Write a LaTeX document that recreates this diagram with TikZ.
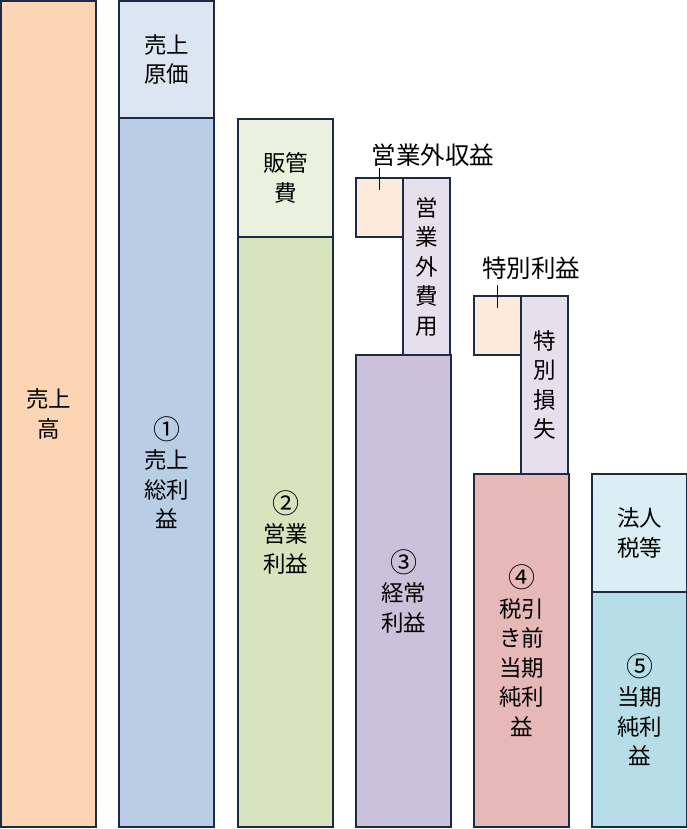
\documentclass[tikz,border=0pt]{standalone}
\usepackage{fontspec}
\setmainfont{Noto Sans CJK JP}
\usetikzlibrary{positioning}
\definecolor{edge}{HTML}{1B2A47}
\definecolor{sales}{HTML}{FCD5B5}
\definecolor{cogs}{HTML}{DCE6F2}
\definecolor{gross}{HTML}{B9CDE5}
\definecolor{sga}{HTML}{EBF1DE}
\definecolor{oper}{HTML}{D7E4BD}
\definecolor{ordin}{HTML}{CCC1DA}
\definecolor{expense}{HTML}{E6E0EC}
\definecolor{income}{HTML}{FDEADA}
\definecolor{pretax}{HTML}{E6B9B8}
\definecolor{taxes}{HTML}{DBEEF4}
\definecolor{net}{HTML}{B7DEE8}
\newcommand\jpfont{\fontsize{22.5}{29.5}\selectfont}
\newcommand\circnum[1]{{\fontsize{27}{29.5}\selectfont #1}}

\begin{document}
\begin{tikzpicture}
[x=1pt,y=-1pt,
box/.style ={rectangle, draw=edge, line width=2pt,
inner sep=0pt, outer sep=0pt, anchor=north west,
align=center, font=\jpfont},
wide/.style ={box, minimum width=95},
narrow/.style ={box, minimum width=47},
tag/.style ={font=\fontsize{24.5}{29.5}\selectfont, inner sep=0pt},
tick/.style ={draw=black, line width=1.5pt}]
\useasboundingbox (0,0) rectangle (687,829);
% column 1
\node [wide, fill=sales, minimum height=826] (uriage) at (1,1) {売上\\高};
% column 2
\node [wide, fill=gross, minimum height=709] (arari) at (119,118) {\circnum{①}\\売上\\総利\\益};
\node [wide, fill=cogs, minimum height=117] (genka) at (119,1) {売上\\原価};
% column 3
\node [wide, fill=oper, minimum height=590] (eigyo) at (238,237) {\circnum{②}\\営業\\利益};
\node [wide, fill=sga, minimum height=118] (hankan) at (238,119) {販管\\費};
% column 4
\node [wide, fill=ordin, minimum height=472] (keijo) at (356,355) {\circnum{③}\\経常\\利益};
\node [narrow, fill=expense, minimum height=177] (gaihi) at (403,178) {営\\業\\外\\費\\用};
\node [narrow, fill=income, minimum height=59] (gaisyu) at (356,178) {};
% column 5
\node [wide, fill=pretax, minimum height=353] (zeimae) at (474,474) {\circnum{④}\\税引\\き前\\当期\\純利\\益};
\node [narrow, fill=expense, minimum height=178] (tokuson) at (521,296) {特\\別\\損\\失};
\node [narrow, fill=income, minimum height=59] (tokueki) at (474,296) {};
% column 6
\node [wide, fill=net, minimum height=235] (junri) at (592,592) {\circnum{⑤}\\当期\\純利\\益};
\node [wide, fill=taxes, minimum height=118] (hojin) at (592,474) {法人\\税等};
% labels
\node [tag] (gaisyulbl) at (433,155) {営業外収益};
\node [tag] (tokuekilbl) at (531,268) {特別利益};
\path [tick] ([yshift=10pt]gaisyu.north) -- ([yshift=-12pt]gaisyu.north);
\path [tick] ([yshift=11pt]tokueki.north) -- ([yshift=-12pt]tokueki.north);
\end{tikzpicture}
\end{document}
